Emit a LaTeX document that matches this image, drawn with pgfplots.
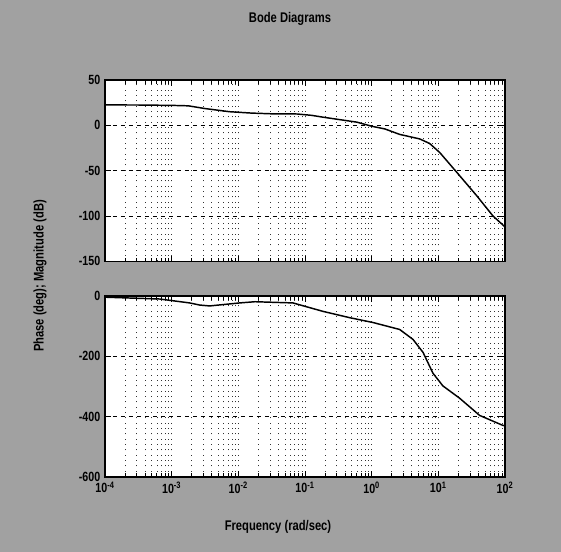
\documentclass[border=0pt]{standalone}
\usepackage{fontspec}
\setmainfont{Liberation Sans}[FakeStretch=0.8]
\usepackage{pgfplots}
\pgfplotsset{compat=1.18}
\begin{document}
\begin{tikzpicture}
\fill[black!37] (0,0) rectangle (420.75pt,414pt);
\begin{axis}[
  xmode=log, xmin=1e-4, xmax=1e2,
  scale only axis, width=300pt,
  axis background/.style={fill=white},
  axis line style={line width=1.2pt},
  tick align=inside,
  xtick={1e-4,1e-3,1e-2,1e-1,1,10,100},
  xmajorgrids=true, xminorgrids=true, ymajorgrids=true,
  grid style={dash pattern=on 0.8pt off 3.2pt, black!80, line width=0.5pt},
  major y grid style={dash pattern=on 3pt off 3pt, black, line width=0.6pt},
  tick style={black, line width=0.6pt},
  tick label style={font=\bfseries\fontsize{10}{12}\selectfont},
  at={(78.75pt,354pt)}, anchor=north west, height=136pt,
  ymin=-150, ymax=50, ytick={-150,-100,-50,0,50},
  yticklabels={-150,-100,-50,0,50},
  xticklabels={}]
\addplot[black, line width=1.1pt, no marks] coordinates {
(1e-4,22.5) (3.16e-4,22.4) (1e-3,22) (1.78e-3,21.5) (3.16e-3,18.5)
(7.4e-3,15) (1.58e-2,13.5) (3.16e-2,12.7) (7.6e-2,12.5) (0.126,11)
(0.186,9) (0.316,6.5) (0.6,3.5) (1,-1) (1.58,-4) (2.63,-10)
(5.25,-15) (7.4,-20) (10.5,-30) (19,-52) (38,-78) (66,-100) (100,-112)
};
\end{axis}
\begin{axis}[
  xmode=log, xmin=1e-4, xmax=1e2,
  scale only axis, width=300pt,
  axis background/.style={fill=white},
  axis line style={line width=1.2pt},
  tick align=inside,
  xtick={1e-4,1e-3,1e-2,1e-1,1,10,100},
  xmajorgrids=true, xminorgrids=true, ymajorgrids=true,
  grid style={dash pattern=on 0.8pt off 3.2pt, black!80, line width=0.5pt},
  major y grid style={dash pattern=on 3pt off 3pt, black, line width=0.6pt},
  tick style={black, line width=0.6pt},
  tick label style={font=\bfseries\fontsize{10}{12}\selectfont},
  at={(78.75pt,192pt)}, anchor=north west, height=135.75pt,
  ymin=-600, ymax=0, ytick={-600,-400,-200,0},
  yticklabels={-600,-400,-200,0},
  xticklabels={10\textsuperscript{-4},10\textsuperscript{-3},10\textsuperscript{-2},10\textsuperscript{-1},10\textsuperscript{0},10\textsuperscript{1},10\textsuperscript{2}}]
\addplot[black, line width=1.1pt, no marks] coordinates {
(1e-4,-4) (6.6e-4,-10) (1.86e-3,-23) (2.63e-3,-30) (3.7e-3,-33)
(1.05e-2,-23) (1.78e-2,-19) (6.6e-2,-23) (0.186,-51) (0.47,-72)
(1.05,-88) (2.63,-111) (4.17,-144) (5.9,-187) (8.3,-256) (11.7,-298)
(20.9,-339) (41.7,-396) (93,-429) (100,-430)
};
\end{axis}
\node[font=\bfseries\fontsize{10.5}{12}\selectfont] at (217.5pt,400pt) {Bode Diagrams};
\node[font=\bfseries\fontsize{10.5}{12}\selectfont] at (208.5pt,19pt) {Frequency (rad/sec)};
\node[font=\bfseries\fontsize{10.5}{12}\selectfont, rotate=90] at (30pt,207pt) {Phase (deg); Magnitude (dB)};
\end{tikzpicture}
\end{document}
